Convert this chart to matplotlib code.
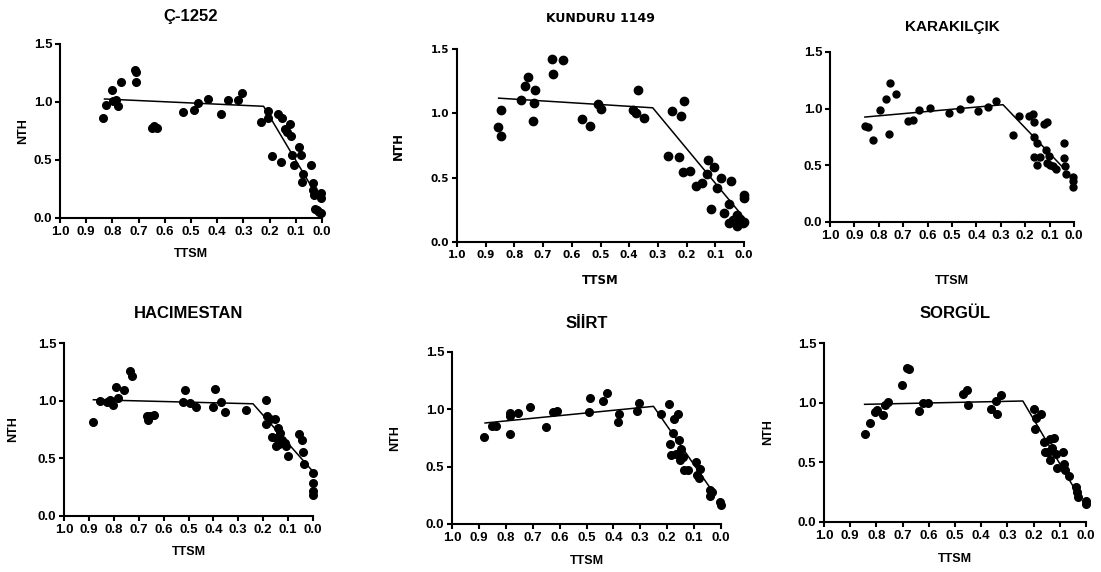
import matplotlib
matplotlib.use('Agg')
import matplotlib.pyplot as plt

plt.rcParams['font.family'] = ['Liberation Sans', 'DejaVu Sans']
plt.rcParams['font.weight'] = 'bold'

# ---- data (x = TTSM, y = NTH) ----
c1252_x = [0.834, 0.825, 0.80, 0.796, 0.786, 0.777, 0.766, 0.713, 0.71, 0.71,
           0.65, 0.643, 0.628, 0.531, 0.49, 0.475, 0.434, 0.386, 0.359, 0.322,
           0.306, 0.232, 0.208, 0.206, 0.189, 0.168, 0.153, 0.155, 0.143, 0.134,
           0.124, 0.118, 0.113, 0.108, 0.088, 0.08, 0.074, 0.078, 0.041, 0.034,
           0.034, 0.032, 0.025, 0.019, 0.013, 0.003, 0.003, 0.004]
c1252_y = [0.862, 0.974, 1.106, 1.006, 1.02, 0.968, 1.17, 1.273, 1.256, 1.17,
           0.78, 0.796, 0.78, 0.914, 0.93, 0.99, 1.026, 0.9, 1.02, 1.02,
           1.075, 0.825, 0.92, 0.865, 0.537, 0.894, 0.86, 0.483, 0.767, 0.741,
           0.807, 0.704, 0.546, 0.46, 0.612, 0.543, 0.382, 0.307, 0.457, 0.302,
           0.244, 0.2, 0.078, 0.066, 0.052, 0.216, 0.17, 0.043]
c1252_fit_x = [0.83, 0.223, 0.035]
c1252_fit_y = [1.026, 0.963, 0.25]

kunduru_x = [0.858, 0.848, 0.848, 0.778, 0.764, 0.753, 0.728, 0.731, 0.734, 0.67,
             0.664, 0.629, 0.565, 0.535, 0.507, 0.497, 0.386, 0.378, 0.37, 0.349,
             0.252, 0.219, 0.21, 0.264, 0.226, 0.214, 0.188, 0.167, 0.146, 0.124,
             0.105, 0.13, 0.081, 0.093, 0.045, 0.0, 0.0, 0.051, 0.115, 0.07,
             0.025, 0.014, 0.051, 0.025, 0.002, 0.0, 0.038]
kunduru_y = [0.894, 0.821, 1.029, 1.102, 1.209, 1.279, 1.178, 1.084, 0.944, 1.424,
             1.302, 1.414, 0.959, 0.899, 1.071, 1.032, 1.029, 1.003, 1.178, 0.967,
             1.022, 0.98, 1.097, 0.671, 0.658, 0.543, 0.549, 0.432, 0.458, 0.64,
             0.58, 0.53, 0.497, 0.419, 0.476, 0.367, 0.341, 0.296, 0.255, 0.224,
             0.211, 0.177, 0.151, 0.125, 0.146, 0.158, 0.17]
kunduru_fit_x = [0.855, 0.318, 0.01]
kunduru_fit_y = [1.118, 1.043, 0.215]

karakilcik_x = [0.857, 0.846, 0.824, 0.795, 0.771, 0.76, 0.753, 0.729, 0.679, 0.659,
                0.637, 0.591, 0.512, 0.468, 0.427, 0.392, 0.351, 0.321, 0.251, 0.226,
                0.184, 0.169, 0.165, 0.165, 0.165, 0.15, 0.15, 0.139, 0.124, 0.11,
                0.116, 0.11, 0.102, 0.1, 0.086, 0.075, 0.041, 0.041, 0.035, 0.031,
                0.003, 0.003, 0.003]
karakilcik_y = [0.85, 0.835, 0.724, 0.991, 1.088, 0.776, 1.224, 1.126, 0.888, 0.903,
                0.991, 1.006, 0.962, 0.997, 1.088, 0.982, 1.012, 1.068, 0.771, 0.938,
                0.938, 0.953, 0.879, 0.747, 0.574, 0.697, 0.5, 0.574, 0.865, 0.879,
                0.632, 0.52, 0.579, 0.506, 0.491, 0.468, 0.697, 0.565, 0.491, 0.421,
                0.394, 0.359, 0.306]
karakilcik_fit_x = [0.857, 0.291, 0.04]
karakilcik_fit_y = [0.926, 1.035, 0.47]

hacimestan_x = [0.882, 0.856, 0.826, 0.816, 0.805, 0.791, 0.785, 0.759, 0.735, 0.725,
                0.668, 0.662, 0.655, 0.639, 0.521, 0.515, 0.492, 0.471, 0.401, 0.392,
                0.368, 0.354, 0.27, 0.187, 0.187, 0.183, 0.174, 0.163, 0.154, 0.15,
                0.147, 0.139, 0.134, 0.136, 0.126, 0.114, 0.11, 0.099, 0.057, 0.044,
                0.04, 0.036, 0.0, 0.0, 0.0, 0.0]
hacimestan_y = [0.811, 0.999, 0.985, 1.002, 0.961, 1.115, 1.025, 1.095, 1.26, 1.211,
                0.869, 0.834, 0.869, 0.88, 0.985, 1.095, 0.979, 0.947, 0.947, 1.1,
                0.985, 0.901, 0.921, 1.002, 0.796, 0.869, 0.843, 0.689, 0.843, 0.672,
                0.611, 0.767, 0.718, 0.626, 0.655, 0.637, 0.611, 0.521, 0.707, 0.655,
                0.553, 0.452, 0.374, 0.284, 0.217, 0.182]
hacimestan_fit_x = [0.882, 0.241, 0.0]
hacimestan_fit_y = [1.008, 0.973, 0.385]

siirt_x = [0.882, 0.852, 0.835, 0.786, 0.783, 0.786, 0.755, 0.711, 0.652, 0.624,
           0.611, 0.492, 0.488, 0.437, 0.424, 0.38, 0.384, 0.313, 0.306, 0.222,
           0.194, 0.191, 0.185, 0.179, 0.173, 0.166, 0.159, 0.157, 0.152, 0.148,
           0.143, 0.139, 0.124, 0.092, 0.089, 0.08, 0.077, 0.04, 0.04, 0.035,
           0.002, 0.0]
siirt_y = [0.759, 0.852, 0.852, 0.968, 0.939, 0.788, 0.968, 1.02, 0.846, 0.974,
           0.988, 0.974, 1.102, 1.073, 1.145, 0.962, 0.89, 0.985, 1.055, 0.962,
           1.049, 0.7, 0.602, 0.794, 0.916, 0.613, 0.962, 0.73, 0.561, 0.654,
           0.584, 0.474, 0.474, 0.541, 0.424, 0.404, 0.48, 0.299, 0.241, 0.276,
           0.195, 0.169]
siirt_fit_x = [0.877, 0.251, 0.03]
siirt_fit_y = [0.881, 1.026, 0.28]

sorgul_x = [0.845, 0.824, 0.807, 0.799, 0.776, 0.766, 0.754, 0.702, 0.684, 0.674,
            0.636, 0.623, 0.604, 0.468, 0.455, 0.451, 0.363, 0.343, 0.34, 0.325,
            0.2, 0.195, 0.19, 0.172, 0.162, 0.158, 0.146, 0.139, 0.139, 0.13,
            0.124, 0.115, 0.111, 0.089, 0.083, 0.079, 0.066, 0.038, 0.034, 0.031,
            0.0, 0.0]
sorgul_y = [0.735, 0.832, 0.919, 0.941, 0.899, 0.983, 1.006, 1.148, 1.293, 1.282,
            0.927, 1.0, 0.997, 1.075, 1.103, 0.978, 0.944, 1.014, 0.902, 1.067,
            0.944, 0.782, 0.874, 0.908, 0.673, 0.589, 0.589, 0.698, 0.522, 0.623,
            0.707, 0.567, 0.45, 0.587, 0.483, 0.433, 0.385, 0.293, 0.251, 0.209,
            0.176, 0.148]
sorgul_fit_x = [0.845, 0.241, 0.02]
sorgul_fit_y = [0.986, 1.014, 0.19]

x_ticks = [1.0, 0.9, 0.8, 0.7, 0.6, 0.5, 0.4, 0.3, 0.2, 0.1, 0.0]
y_ticks = [0.0, 0.5, 1.0, 1.5]

W, H = 1101, 572
fig = plt.figure(figsize=(W / 100, H / 100), dpi=100)


def panel(box, xs, ys, fx, fy, title, title_size=12, title_off=28,
          tick_size=9.5, label_size=9, xlab_off=36, ylab_off=37, ms=5.5,
          family=None):
    # box = (left, right, top, bottom) in pixels of the final image
    l, r, t, b = box
    wpx, hpx = r - l, b - t
    ax = fig.add_axes([l / W, 1 - b / H, wpx / W, hpx / H])
    ax.plot(xs, ys, 'o', color='black', ms=ms, clip_on=False, zorder=3)
    ax.plot(fx, fy, '-', color='black', lw=1.1, zorder=2)
    ax.set_xlim(1.0, 0.0)
    ax.set_ylim(0.0, 1.5)
    ax.set_xticks(x_ticks)
    ax.set_yticks(y_ticks)
    fam = family or plt.rcParams['font.family']
    ax.set_xticklabels(['%.1f' % v for v in x_ticks], fontsize=tick_size,
                       fontweight='bold', family=fam)
    ax.set_yticklabels(['%.1f' % v for v in y_ticks], fontsize=tick_size,
                       fontweight='bold', family=fam)
    for s in ['top', 'right']:
        ax.spines[s].set_visible(False)
    for s in ['left', 'bottom']:
        ax.spines[s].set_linewidth(1.5)
    ax.tick_params(width=1.5, length=3.5, pad=2)
    ax.text(0.5, 1 + title_off / hpx, title, transform=ax.transAxes,
            ha='center', va='center', fontsize=title_size, fontweight='bold',
            family=fam)
    ax.set_xlabel('TTSM', fontsize=label_size, fontweight='bold', family=fam)
    ax.xaxis.set_label_coords(0.5, -xlab_off / hpx)
    ax.xaxis.label.set_va('center')
    if ylab_off is not None:
        ax.set_ylabel('NTH', fontsize=label_size, fontweight='bold', family=fam)
        ax.yaxis.set_label_coords(-ylab_off / wpx, 0.5)
        ax.yaxis.label.set_va('center')
    return ax


panel((60, 322, 44, 218), c1252_x, c1252_y, c1252_fit_x, c1252_fit_y, 'Ç-1252')
panel((457, 744, 49, 242), kunduru_x, kunduru_y, kunduru_fit_x, kunduru_fit_y,
      'KUNDURU 1149', title_size=9, title_off=30, tick_size=7.5, label_size=8.5,
      xlab_off=38, ylab_off=59, ms=6, family=['DejaVu Sans'])
panel((830, 1074, 52, 222), karakilcik_x, karakilcik_y, karakilcik_fit_x, karakilcik_fit_y,
      'KARAKILÇIK', title_size=11, title_off=25, xlab_off=59, ylab_off=None, ms=5)
panel((64, 313, 343, 516), hacimestan_x, hacimestan_y, hacimestan_fit_x, hacimestan_fit_y,
      'HACIMESTAN', title_off=30, ylab_off=51)
panel((452, 721, 352, 524), siirt_x, siirt_y, siirt_fit_x, siirt_fit_y,
      'SİİRT', title_off=28, xlab_off=37, ylab_off=57)
panel((824, 1086, 343, 522), sorgul_x, sorgul_y, sorgul_fit_x, sorgul_fit_y,
      'SORGÜL', title_off=30, xlab_off=37, ylab_off=56)

fig.savefig('out.png', dpi=100)
